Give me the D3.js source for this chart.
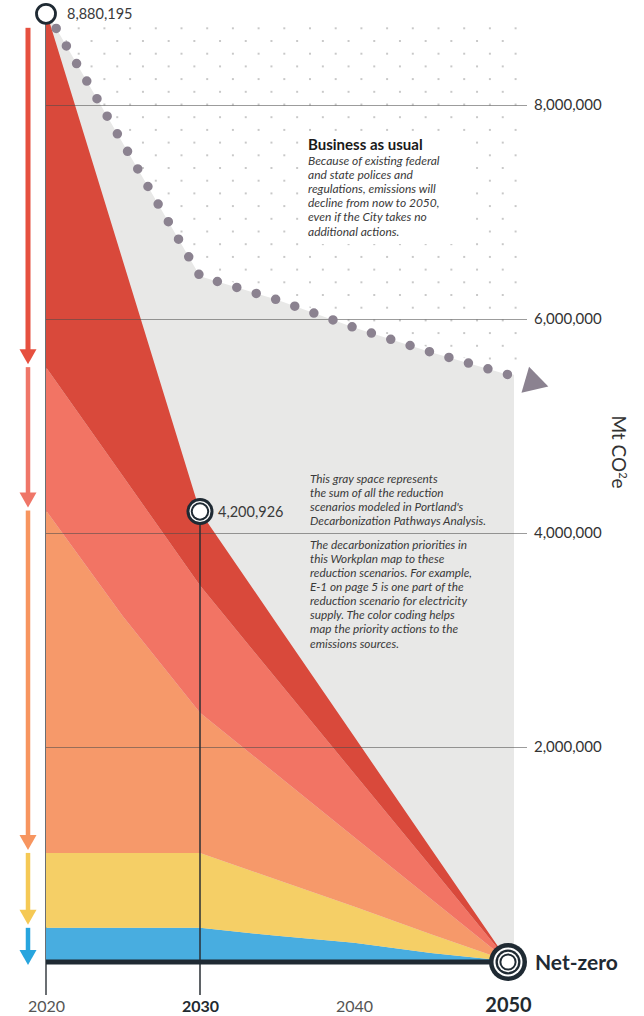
<!DOCTYPE html>
<html><head><meta charset="utf-8">
<script src="https://cdnjs.cloudflare.com/ajax/libs/d3/7.8.5/d3.min.js"></script>
<style>
body{margin:0;background:#fff}
svg{display:block}
text{font-family:Lato,'Open Sans',sans-serif}
</style></head>
<body><svg id="c" width="644" height="1016"></svg>
<script>
// ---- DATA ----
const years = [2020, 2025, 2030, 2035, 2040, 2045, 2050];
const blueValues   = [310000, 310000, 310000, 235000, 170000, 75000, 0];
const yellowValues = [700000, 700000, 700000, 525000, 340000, 175000, 0];
const orangeValues = [3200000, 2210000, 1310000, 980000, 650000, 330000, 0];
const salmonValues = [1340000, 1310000, 1190000, 890000, 595000, 300000, 0];
const redValues    = [3330195, 2010000, 690926, 520000, 345000, 170000, 0];
const bauValues    = [8880195, 7640000, 6400000, 6180000, 5920000, 5690000, 5480000];
const yTicks = [2000000, 4000000, 6000000, 8000000];
const xTicks = [2020, 2030, 2040, 2050];
const milestoneYears = [2020, 2030];
const bauTitle = "Business as usual";
const bauNote = ["Because of existing federal", "and state polices and", "regulations, emissions will", "decline from now to 2050,", "even if the City takes no", "additional actions."];
const grayNote1 = ["This gray space represents", "the sum of all the reduction", "scenarios modeled in Portland's", "Decarbonization Pathways Analysis."];
const grayNote2 = ["The decarbonization priorities in", "this Workplan map to these", "reduction scenarios. For example,", "E-1 on page 5 is one part of the", "reduction scenario for electricity", "supply. The color coding helps", "map the priority actions to the", "emissions sources."];

// ---- SETUP ----
const svg = d3.select("#c");
const x = d3.scaleLinear().domain([2020, 2050]).range([46, 508]);
const y = d3.scaleLinear().domain([0, 8000000]).range([961, 105]);
const dark = "#1f2a33";
const keys = ["blue", "yellow", "orange", "salmon", "red"];
const colors = {blue:"#48ade0", yellow:"#f5cf66", orange:"#f6996a", salmon:"#f27464", red:"#d9493b"};
const arrowColors = {blue:"#28a5de", yellow:"#f5c955", orange:"#f7955f", salmon:"#ef7668", red:"#e6503f"};
const table = years.map((yr, i) => ({year: yr, blue: blueValues[i], yellow: yellowValues[i], orange: orangeValues[i], salmon: salmonValues[i], red: redValues[i], bau: bauValues[i]}));
const stacked = d3.stack().keys(keys)(table);

// ---- dot pattern ----
const defs = svg.append("defs");
const pat = defs.append("pattern").attr("id", "dots").attr("patternUnits", "userSpaceOnUse")
  .attr("x", 1.6).attr("y", 2.9).attr("width", 25.7).attr("height", 25.4);
[[0,0],[25.7,0],[0,25.4],[25.7,25.4],[12.85,12.7]].forEach(p =>
  pat.append("circle").attr("cx", p[0]).attr("cy", p[1]).attr("r", 1).attr("fill", "#b5b5b5"));

const bauPts = table.map(d => [x(d.year), y(d.bau)]);
const xEnd = x(2050) + 6;
const lastBau = bauPts[bauPts.length - 1];
const dotRegion = [[x(2020), 22], [xEnd + 6, 22], [xEnd + 6, lastBau[1] - 6]].concat(bauPts.slice().reverse().map(p => [p[0], p[1] - 4]));
svg.append("path").attr("d", d3.line()(dotRegion) + "Z").attr("fill", "url(#dots)");

// white box behind BAU text
svg.append("rect").attr("x", 300).attr("y", 132).attr("width", 174).attr("height", 112).attr("fill", "#fff");

// ---- gray BAU area ----
const grayPts = bauPts.concat([[xEnd, lastBau[1]], [xEnd, y(0)], [x(2020), y(0)]]);
svg.append("path").attr("d", d3.line()(grayPts) + "Z").attr("fill", "#e8e8e7");

// 2020 vertical line (under areas)
svg.append("line").attr("x1", x(2020)).attr("x2", x(2020)).attr("y1", y(bauValues[0]) + 10).attr("y2", 995)
  .attr("stroke", "#3a3f45").attr("stroke-width", 1.5);

// ---- stacked areas ----
const area = d3.area().x(d => x(d.data.year)).y0(d => y(d[0])).y1(d => y(d[1]));
svg.append("g").selectAll("path").data(stacked).join("path")
  .attr("d", area).attr("fill", d => colors[d.key]);

// ---- gridlines + y labels ----
const yAxis = d3.axisRight(y).tickValues(yTicks).tickFormat(d3.format(",")).tickSize(-(527 - 46)).tickPadding(7);
svg.append("g").attr("transform", "translate(527,0)").call(yAxis)
  .call(g => g.select(".domain").remove())
  .call(g => g.selectAll("line").attr("stroke", "#4a4a4a").attr("stroke-opacity", 0.55).attr("stroke-width", 1))
  .call(g => g.selectAll("text").attr("font-size", 15).attr("fill", "#333").attr("font-family", "Lato,'Open Sans',sans-serif"));

// ---- BAU dotted line ----
const bauPath = svg.append("path").datum(table)
  .attr("d", d3.line().x(d => x(d.year)).y(d => y(d.bau)))
  .attr("fill", "none").attr("stroke", "#8b8290").attr("stroke-width", 9.5)
  .attr("stroke-linecap", "round");
{
  const L = bauPath.node().getTotalLength();
  const n = Math.round(L / 20.4);
  bauPath.attr("stroke-dasharray", `0 ${((L - 0.6) / n).toFixed(4)}`);
}
{
  const p1 = bauPts[bauPts.length - 2], p2 = lastBau;
  const dx = p2[0] - p1[0], dy = p2[1] - p1[1], L = Math.hypot(dx, dy);
  const ux = dx / L, uy = dy / L, nx = -uy, ny = ux;
  const bx = p2[0] + ux * 18, by = p2[1] + uy * 18;
  const tri = [[bx + nx * 13.5, by + ny * 13.5], [bx - nx * 13.5, by - ny * 13.5], [bx + ux * 24, by + uy * 24]];
  svg.append("path").attr("d", d3.line()(tri) + "Z").attr("fill", "#8b8290");
}

// ---- left arrows ----
{
  const g = svg.append("g");
  const order = stacked.slice().reverse(); // red first
  let start = null;
  order.forEach((s, i) => {
    const top = y(s[0][1]), bot = y(s[0][0]);
    const st = i === 0 ? top + 17 : start;
    const tip = i === order.length - 1 ? bot + 4 : bot - 3;
    const cx = 28, w = i === 0 ? 5 : 4.5;
    const c = arrowColors[s.key];
    g.append("rect").attr("x", cx - w / 2).attr("y", st).attr("width", w).attr("height", Math.max(0, tip - 14 - st)).attr("fill", c);
    g.append("path").attr("d", d3.line()([[cx - 8.5, tip - 15], [cx + 8.5, tip - 15], [cx, tip]]) + "Z").attr("fill", c);
    start = tip + 3;
  });
}

// ---- 2030 vertical line ----
const v2030 = table.find(d => d.year === 2030);
const tot2030 = keys.reduce((a, k) => a + v2030[k], 0);
svg.append("line").attr("x1", x(2030)).attr("x2", x(2030)).attr("y1", y(tot2030)).attr("y2", 995)
  .attr("stroke", "#2a2f35").attr("stroke-width", 1.5);

// ---- baseline ----
svg.append("line").attr("x1", x(2020)).attr("x2", x(2050)).attr("y1", y(0) + 1).attr("y2", y(0) + 1)
  .attr("stroke", dark).attr("stroke-width", 5);

// ---- milestones ----
const fmt = d3.format(",");
const m0 = table.find(d => d.year === milestoneYears[0]);
const t0 = keys.reduce((a, k) => a + m0[k], 0);
svg.append("circle").attr("cx", x(2020)).attr("cy", y(t0) + 3).attr("r", 9.5).attr("fill", "#fff").attr("stroke", dark).attr("stroke-width", 2.8);
svg.append("text").attr("x", x(2020) + 21).attr("y", y(t0) + 8).attr("font-size", 14.5).attr("fill", "#3a3a3a").text(fmt(t0));

const cy30 = y(tot2030);
[[13.5, dark], [10.5, "#fff"], [9.2, dark], [7.2, "#fff"]].forEach(r =>
  svg.append("circle").attr("cx", x(2030)).attr("cy", cy30).attr("r", r[0]).attr("fill", r[1]));
svg.append("text").attr("x", x(2030) + 18).attr("y", cy30 + 5).attr("font-size", 14.5).attr("fill", "#3a3a3a").text(fmt(tot2030));

// net zero
[[19, dark], [14.5, "#fff"], [12.5, dark], [10.2, "#fff"], [8.6, dark], [6.6, "#fff"]].forEach(r =>
  svg.append("circle").attr("cx", x(2050)).attr("cy", y(0) + 1).attr("r", r[0]).attr("fill", r[1]));
svg.append("text").attr("x", x(2050) + 27).attr("y", y(0) + 9).attr("font-size", 21).attr("font-weight", 700).attr("fill", dark).text("Net-zero");

// ---- x axis labels ----
const xAxis = d3.axisBottom(x).tickValues(xTicks).tickFormat(d3.format("d")).tickSize(0).tickPadding(0);
svg.append("g").attr("transform", "translate(0,1012)").call(xAxis)
  .call(g => g.select(".domain").remove())
  .call(g => g.selectAll("text").attr("dy", 0).attr("y", 0).attr("font-family", "Lato,'Open Sans',sans-serif")
    .attr("font-size", d => d === 2050 ? 20 : 16)
    .attr("font-weight", d => (d === 2030 || d === 2050) ? 700 : 400)
    .attr("fill", d => (d === 2030 || d === 2050) ? "#222a30" : "#555"));

// ---- y title ----
const yt = svg.append("text").attr("transform", "translate(612,452) rotate(90)").attr("text-anchor", "middle")
  .attr("font-size", 19).attr("fill", "#333");
yt.append("tspan").text("Mt CO");
yt.append("tspan").attr("font-size", 11).attr("dy", -7).text("2");
yt.append("tspan").attr("dy", 7).text("e");

// ---- annotations ----
svg.append("text").attr("x", 308).attr("y", 150).attr("font-size", 15).attr("font-weight", 700).attr("fill", "#1a1a1a").text(bauTitle);
svg.append("g").selectAll("text").data(bauNote).join("text")
  .attr("x", 308).attr("y", (d, i) => 165 + i * 14.1).attr("font-size", 12).attr("font-style", "italic").attr("fill", "#3a3a3a").text(d => d);
svg.append("g").selectAll("text").data(grayNote1).join("text")
  .attr("x", 310).attr("y", (d, i) => 483 + i * 14.1).attr("font-size", 11.8).attr("font-style", "italic").attr("fill", "#3a3a3a").text(d => d);
svg.append("g").selectAll("text").data(grayNote2).join("text")
  .attr("x", 310).attr("y", (d, i) => 548.5 + i * 14.15).attr("font-size", 11.8).attr("font-style", "italic").attr("fill", "#3a3a3a").text(d => d);
</script></body></html>
